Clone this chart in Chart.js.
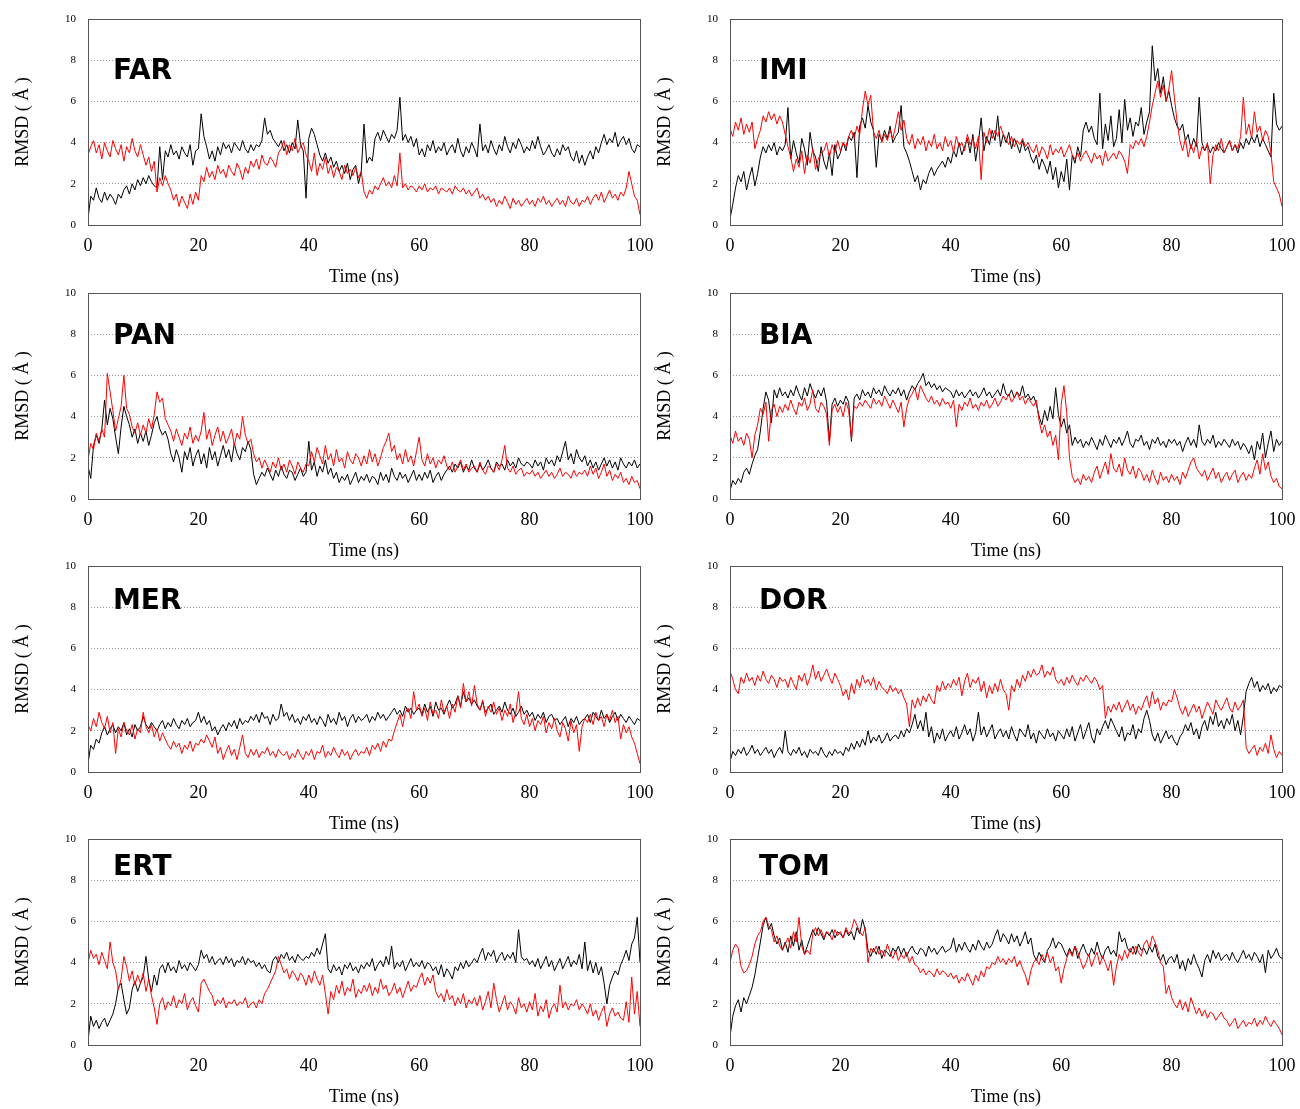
<!DOCTYPE html>
<html>
<head>
<meta charset="utf-8">
<script src="https://cdn.jsdelivr.net/npm/chart.js@4.4.1/dist/chart.umd.min.js"></script>
<style>
  body { margin: 0; background: #fff; }
  #page { position: relative; width: 1300px; height: 1109px; overflow: hidden; }
  canvas { position: absolute; }
</style>
</head>
<body>
<div id="page"></div>
<script>
// RMSD (Å) every 0.5 ns, 0..100 ns (one row = 10 ns)
const farBlack = [
  0.3,1.4,1.2,1.8,1.3,1.1,1.6,1.2,1.5,1.3,1.0,1.5,1.3,1.7,1.9,1.5,2.0,1.7,2.2,1.9,
  2.3,2.0,2.4,2.1,1.9,1.8,3.8,2.2,3.6,3.3,3.9,3.4,3.6,3.2,3.8,3.5,3.3,3.9,2.9,3.6,
  3.7,5.4,4.3,3.8,3.2,3.6,3.1,3.8,3.4,4.0,3.7,3.9,3.5,4.0,3.8,3.6,4.1,3.7,3.5,3.9,
  3.6,3.9,3.8,4.1,5.2,4.4,4.6,4.2,4.0,3.8,4.1,3.6,3.9,3.5,4.0,3.7,5.1,3.9,3.6,1.3,
  4.2,4.7,4.4,3.9,3.4,3.1,3.5,3.0,3.3,2.8,3.1,2.6,2.9,2.5,3.0,2.2,2.7,2.9,2.0,2.6,
  4.9,3.0,3.3,3.1,4.2,4.5,4.1,4.6,4.3,4.0,4.4,4.2,4.6,6.2,4.1,4.4,4.0,4.3,3.8,4.2,
  3.4,3.7,3.3,3.9,3.6,4.1,3.5,3.8,3.6,4.0,3.4,3.7,3.9,3.5,4.2,3.6,3.3,3.8,3.5,4.0,
  3.7,3.3,4.9,3.6,3.9,3.5,4.1,3.7,3.4,3.9,3.6,4.3,3.8,3.5,4.0,3.7,4.2,3.9,3.5,3.8,
  3.6,4.1,3.7,4.3,3.8,3.4,3.6,3.9,3.5,3.3,3.7,3.4,3.9,3.6,3.8,3.3,3.1,3.6,3.0,3.4,
  2.9,3.3,3.6,3.2,3.8,3.5,4.0,4.4,3.9,4.2,4.0,4.5,3.8,4.1,4.3,3.9,4.2,3.7,3.5,3.9,
  3.8
];
const farRed = [
  3.4,3.8,4.1,3.5,3.9,3.2,4.0,3.6,3.3,4.1,3.7,3.4,3.9,3.1,3.8,3.5,4.2,3.6,3.3,3.9,
  3.4,2.9,3.3,2.6,3.1,1.6,2.3,1.9,2.4,2.0,1.7,1.2,1.5,0.9,1.4,1.1,0.8,1.5,1.0,1.6,
  1.2,2.4,2.1,2.8,2.3,2.6,2.2,2.9,2.5,2.7,2.3,2.9,2.6,2.4,3.0,2.7,2.2,2.8,2.5,3.1,
  2.8,3.2,2.7,3.4,3.0,2.9,3.3,3.1,2.8,3.5,3.7,4.1,3.4,3.9,3.6,4.2,3.5,3.8,4.0,3.4,
  3.1,2.6,3.5,2.4,3.0,2.7,3.3,2.5,2.9,2.3,2.8,2.6,2.2,2.9,2.5,2.7,2.4,2.8,2.3,2.6,
  1.6,1.3,1.7,1.5,1.9,1.7,2.0,2.3,1.9,2.1,1.8,2.4,1.9,3.5,1.8,2.0,1.7,1.9,1.8,1.6,
  1.9,1.7,2.0,1.6,1.8,1.7,1.9,1.5,1.8,1.7,1.6,1.8,1.5,1.9,1.7,1.6,1.8,1.5,1.7,1.4,
  1.6,1.8,1.3,1.5,1.2,1.4,1.1,1.3,0.9,1.2,1.0,1.4,1.1,0.8,1.3,1.0,1.2,0.9,1.1,1.3,
  1.0,1.2,0.9,1.3,1.1,1.4,1.0,1.2,0.9,1.1,1.3,1.0,1.2,0.9,1.4,1.1,1.0,1.3,0.9,1.2,
  1.1,1.4,1.0,1.3,1.5,1.2,1.6,1.1,1.4,1.7,1.3,1.5,1.2,1.6,1.4,1.8,2.6,2.0,1.4,1.2,
  0.5
];
const imiBlack = [
  0.3,1.0,1.8,2.4,2.1,2.6,1.7,2.3,2.8,1.9,2.5,3.3,3.8,3.5,3.9,3.6,4.0,3.4,3.8,3.6,
  3.9,5.7,3.2,4.1,3.5,3.0,4.2,3.7,2.9,4.5,3.6,3.3,2.6,3.8,3.1,2.7,3.5,2.4,3.9,3.2,
  3.5,4.0,3.6,4.3,4.1,4.5,2.3,4.8,5.2,4.7,5.8,5.0,4.6,2.8,4.4,4.1,4.6,4.2,4.8,4.0,
  4.3,4.5,5.8,3.8,3.5,3.1,2.6,2.1,2.4,1.7,2.2,2.0,2.5,2.8,2.4,2.7,2.9,3.1,2.8,3.3,
  3.0,3.6,3.3,4.0,3.4,3.8,4.2,3.5,4.4,3.1,4.0,5.2,3.6,4.3,3.9,4.6,4.1,5.3,3.8,4.4,
  4.0,4.5,3.7,4.2,3.9,3.5,4.1,3.6,3.8,3.3,3.0,3.4,2.7,3.2,2.9,2.5,3.1,2.2,2.8,1.8,
  2.6,2.1,3.2,1.7,3.4,3.0,3.8,3.3,4.6,5.0,4.5,4.8,4.2,3.9,6.4,3.7,4.9,4.1,5.3,3.8,
  4.2,5.6,4.0,6.1,4.6,5.2,4.3,5.0,4.8,5.7,4.4,5.0,5.5,8.7,7.0,7.6,6.4,7.2,6.0,6.5,
  5.8,5.2,4.8,4.6,4.9,4.1,4.4,3.7,4.2,3.8,6.2,4.0,3.6,3.9,3.5,3.8,3.6,4.0,3.7,3.5,
  3.8,4.1,3.6,3.9,3.5,4.0,3.7,4.2,3.9,4.3,4.0,4.4,3.8,4.2,3.9,3.6,3.3,6.4,4.9,4.6,
  4.8
];
const imiRed = [
  4.7,4.3,5.0,4.6,5.2,4.4,4.9,4.5,5.0,3.7,4.2,4.6,5.3,5.0,5.5,5.1,5.4,4.9,5.3,5.0,
  4.4,3.8,3.3,2.6,3.2,2.8,3.6,2.5,3.4,3.0,3.7,2.7,3.2,3.5,3.6,4.0,3.3,3.9,3.5,4.1,
  3.6,4.0,3.8,4.3,4.6,4.2,4.8,4.4,5.6,6.5,5.8,6.3,4.5,4.2,4.6,4.0,4.4,4.1,4.6,4.2,
  4.8,5.5,4.6,5.1,4.2,3.9,4.4,3.7,4.2,3.9,4.3,3.6,4.1,3.8,4.4,3.7,4.0,3.6,4.3,3.8,
  4.1,3.5,4.3,3.8,4.0,3.6,4.4,3.9,4.2,3.7,4.3,2.2,4.5,4.0,4.7,4.2,4.6,4.3,4.8,4.4,
  4.2,3.9,4.3,3.8,4.1,3.9,4.2,3.8,4.0,3.7,3.5,3.9,3.3,3.8,3.6,3.2,3.9,3.4,3.7,3.5,
  3.8,3.3,3.6,3.9,3.4,3.2,3.5,3.1,3.4,3.6,3.3,3.0,3.5,3.2,3.4,2.9,3.6,3.1,3.3,3.5,
  3.2,3.6,3.4,3.1,2.5,3.9,3.7,4.1,3.9,4.2,3.8,4.3,5.0,5.8,6.4,7.0,6.2,6.8,6.0,6.6,
  7.5,6.2,5.0,4.1,3.6,4.2,3.3,3.9,3.5,4.1,3.2,3.8,3.6,4.0,2.0,3.4,3.9,3.6,4.2,3.5,
  3.8,4.1,3.6,3.9,3.7,4.3,6.2,4.4,4.9,4.2,5.5,4.5,4.8,4.1,4.6,4.3,3.5,2.1,1.8,1.5,
  0.9
];
const panBlack = [
  1.6,1.0,2.6,3.1,2.7,3.4,4.8,3.6,4.4,3.9,3.0,2.2,3.5,4.5,4.0,3.6,3.0,3.4,2.7,3.2,
  2.8,3.3,2.6,3.1,3.7,4.0,3.4,3.1,3.3,2.9,2.2,1.8,2.4,2.0,1.3,2.3,1.9,2.5,1.6,2.1,
  2.4,1.7,2.2,1.5,2.5,1.9,2.3,1.6,2.1,2.6,2.0,2.4,1.8,2.7,2.2,1.9,2.5,2.3,2.8,2.4,
  1.2,0.7,1.0,1.3,1.1,1.5,1.2,0.9,1.4,1.1,1.6,1.2,1.0,1.4,1.3,0.9,1.2,1.5,1.1,1.3,
  2.8,1.4,1.8,1.1,1.6,1.3,1.9,1.2,1.5,1.0,1.3,0.8,1.1,0.9,1.2,0.7,1.0,1.3,0.8,1.1,
  0.9,1.2,0.8,1.1,1.0,0.7,1.3,0.9,1.2,0.8,1.5,1.1,0.9,1.3,1.0,1.2,0.8,1.1,1.4,0.9,
  1.2,0.9,1.3,1.0,1.4,0.8,1.1,1.3,0.9,1.2,1.4,1.6,1.3,1.7,1.5,1.8,1.3,1.6,1.4,1.9,
  1.5,1.3,1.7,1.4,1.6,1.9,1.5,1.3,1.8,1.6,1.7,1.4,1.9,1.6,1.8,1.5,2.0,1.7,1.6,1.8,
  1.7,1.5,1.9,1.6,1.8,1.4,2.0,1.7,1.9,1.6,2.1,1.8,2.3,2.8,1.9,2.2,1.7,2.4,2.0,1.8,
  2.1,1.6,1.9,1.5,1.8,1.4,1.7,2.0,1.6,1.9,1.5,1.8,1.4,2.0,1.7,1.5,1.8,1.6,1.9,1.5,
  1.7
];
const panRed = [
  1.9,2.7,2.4,3.2,2.8,3.4,3.0,6.1,5.2,4.3,3.3,3.9,4.5,6.0,4.4,4.1,3.5,3.2,3.7,3.1,
  3.6,3.2,3.9,3.4,4.1,5.2,4.7,4.9,3.9,3.6,3.3,2.8,3.4,3.0,2.6,3.2,2.9,3.5,2.7,3.1,
  2.8,3.3,4.2,2.9,3.4,2.6,3.1,3.5,2.8,3.3,2.7,3.0,3.4,2.6,3.2,2.9,4.0,3.1,2.7,2.9,
  2.2,1.8,2.0,1.5,1.9,1.6,1.3,1.8,1.5,2.0,1.4,1.7,1.3,1.9,1.6,1.2,1.8,1.5,1.3,1.7,
  1.6,2.3,1.8,2.5,2.1,1.7,2.6,1.9,2.2,1.6,2.4,1.8,2.0,1.5,2.3,1.9,1.7,2.2,2.0,1.6,
  2.1,1.7,2.4,1.8,2.2,1.6,2.0,2.5,2.8,3.2,2.3,2.6,1.9,2.2,1.7,2.4,1.8,2.1,1.6,2.3,
  3.0,1.9,1.6,2.2,1.7,2.0,1.5,1.9,1.7,2.1,1.6,1.4,1.8,1.3,1.6,1.9,1.4,1.7,1.3,1.5,
  1.6,1.3,1.8,1.4,1.2,1.6,1.5,1.3,1.7,1.4,1.9,2.6,1.5,1.3,1.6,1.2,1.4,1.5,1.1,1.3,
  1.2,1.4,1.1,1.3,1.0,1.2,1.4,1.1,1.3,1.0,1.2,1.5,1.1,1.3,1.2,1.0,1.4,1.1,1.3,1.2,
  1.4,1.1,1.6,1.2,1.5,1.0,1.3,1.7,1.1,1.4,0.9,1.2,1.0,1.3,0.8,1.0,0.7,1.1,0.8,0.9,
  0.5
];
const biaBlack = [
  0.4,0.9,0.7,1.0,0.8,1.3,1.5,1.2,1.7,2.1,2.4,3.3,4.4,5.2,4.8,3.7,5.3,4.9,5.4,5.0,
  5.2,4.9,5.3,5.0,5.5,5.1,4.8,5.4,5.0,5.6,5.2,4.9,5.3,5.0,5.4,4.7,2.8,4.6,4.9,4.5,
  4.8,4.6,5.0,4.7,2.8,4.9,5.1,4.8,5.3,5.0,5.2,4.9,5.4,5.1,5.3,5.0,5.5,5.2,5.0,5.3,
  5.1,5.4,5.0,5.3,4.8,5.2,5.5,5.3,5.6,5.8,6.1,5.5,5.7,5.4,5.6,5.3,5.5,5.2,5.4,5.3,
  5.2,4.9,5.3,5.0,5.2,4.9,5.1,5.3,5.0,5.2,4.9,5.1,5.4,5.0,5.2,4.9,5.1,5.3,5.0,5.6,
  5.1,5.0,5.3,4.9,5.2,5.0,5.5,4.9,5.1,4.8,5.0,4.6,4.0,3.6,4.3,3.8,4.5,3.9,5.4,4.1,
  3.5,3.9,3.2,3.6,2.6,3.0,2.7,2.9,2.5,2.8,2.6,3.0,2.7,2.4,2.9,2.6,3.1,2.8,2.5,2.9,
  2.7,3.0,2.6,2.9,3.3,2.7,2.5,2.9,2.8,3.1,2.6,2.8,2.4,2.9,2.7,3.0,2.6,2.8,2.5,2.9,
  2.7,2.9,2.6,2.8,2.3,2.7,3.0,2.6,2.9,2.5,3.6,2.8,2.6,2.9,2.7,3.1,2.5,2.8,2.6,2.9,
  2.7,2.5,2.9,2.6,2.8,2.4,2.7,2.5,2.2,2.6,1.9,2.8,2.4,3.2,2.0,2.7,3.3,2.3,2.9,2.6,
  2.8
];
const biaRed = [
  3.1,2.7,3.3,2.8,3.0,2.6,3.2,2.9,2.0,3.1,3.6,4.4,4.1,4.7,2.8,4.3,4.6,4.0,4.5,4.2,
  4.6,4.3,4.8,4.4,4.1,4.7,4.5,4.9,4.3,4.6,5.3,4.4,4.2,4.7,4.5,4.1,2.6,4.3,4.6,4.2,
  4.5,4.0,4.7,4.3,2.9,4.5,4.4,4.7,4.5,4.8,4.6,4.4,4.9,4.6,4.8,4.5,5.0,4.7,4.4,4.8,
  4.5,4.2,4.7,3.5,4.4,4.9,5.1,5.4,4.8,5.5,5.2,4.9,4.7,5.0,4.6,4.8,4.5,4.9,4.6,4.7,
  4.4,4.8,3.5,4.6,4.3,4.7,4.5,4.9,4.4,4.6,4.3,4.7,4.5,4.8,4.4,4.6,4.9,4.5,4.7,5.0,
  4.8,5.1,4.7,4.9,5.2,4.8,5.0,4.6,4.9,4.7,4.5,4.8,3.8,3.2,3.6,3.0,3.3,2.6,3.1,1.9,
  4.6,5.5,4.2,2.0,1.1,0.8,1.0,0.7,1.2,0.9,1.1,0.8,1.3,1.6,1.0,1.4,1.8,1.2,2.2,1.5,
  1.3,1.7,1.1,2.0,1.4,1.2,1.6,1.0,1.5,1.3,0.9,1.2,0.8,1.4,1.0,0.7,1.3,0.9,1.1,0.8,
  1.2,0.9,1.1,0.7,1.3,1.0,1.4,1.8,2.0,1.5,1.3,1.1,1.4,0.9,1.2,1.5,1.0,1.3,0.8,1.1,
  1.3,0.9,1.2,1.4,0.8,1.1,1.3,0.9,1.2,1.0,1.5,1.9,1.2,2.2,1.4,1.8,1.1,0.8,1.0,0.6,
  0.5
];
const merBlack = [
  0.4,1.3,1.1,1.6,1.4,1.9,2.2,1.8,2.1,2.3,1.9,2.2,2.0,2.4,1.8,2.1,1.7,2.3,2.0,2.2,
  2.7,2.3,2.1,2.4,2.2,2.0,2.3,2.5,2.1,2.4,2.2,2.6,2.3,2.1,2.5,2.3,2.6,2.2,2.4,2.5,
  2.9,2.4,2.7,2.3,2.5,2.0,2.2,1.8,2.1,2.3,2.0,2.4,2.2,2.5,2.1,2.6,2.3,2.5,2.4,2.7,
  2.5,2.8,2.4,2.9,2.6,2.7,2.3,2.8,2.5,2.6,3.3,2.7,2.9,2.5,2.8,2.4,2.6,2.3,2.7,2.5,
  2.8,2.4,2.6,2.3,2.7,2.5,2.2,2.8,2.4,2.6,2.3,2.9,2.5,2.7,2.2,2.6,2.8,2.4,2.7,2.5,
  2.6,2.8,2.4,2.7,2.5,2.9,2.6,2.8,2.5,2.7,2.9,3.1,2.8,3.0,2.7,3.2,2.9,3.1,2.8,3.0,
  3.1,2.8,3.3,2.9,3.2,2.7,3.4,3.0,3.1,2.8,3.2,3.5,3.1,3.3,3.7,3.2,3.9,3.4,3.6,3.3,
  3.5,3.2,3.0,3.4,2.9,3.1,3.3,2.8,3.0,3.2,2.9,3.4,3.0,2.8,3.1,2.7,2.9,3.2,2.8,3.0,
  2.7,2.9,2.5,2.8,2.6,2.9,2.4,2.7,2.8,2.5,2.6,2.3,2.5,2.7,2.2,2.6,2.4,2.7,2.3,2.5,
  2.6,2.8,2.4,2.9,2.7,2.5,3.0,2.6,2.8,2.4,2.7,2.9,2.5,2.8,2.6,2.4,2.7,2.5,2.3,2.6,
  2.5
];
const merRed = [
  2.3,2.0,2.6,2.2,2.9,2.4,2.1,2.7,1.9,2.4,0.9,2.1,1.7,2.4,2.0,1.8,2.3,1.6,2.1,1.9,
  2.9,2.2,1.9,2.3,1.7,2.1,1.5,1.9,1.6,1.3,1.1,1.5,1.2,1.4,0.9,1.3,1.1,1.5,1.0,1.4,
  1.3,1.6,1.4,1.8,1.5,1.2,1.7,0.9,1.2,0.6,1.0,1.3,0.8,1.1,0.6,1.2,1.8,0.9,0.7,1.1,
  0.8,1.1,0.7,1.0,0.9,1.2,0.8,1.0,0.7,1.1,0.9,0.8,1.0,0.6,0.9,0.7,1.1,0.8,0.6,1.0,
  0.8,1.1,0.6,1.0,0.9,1.3,0.7,1.0,0.8,1.2,0.9,0.7,1.1,0.8,1.0,0.6,0.9,1.1,0.8,1.0,
  0.9,1.2,0.8,1.3,1.1,1.4,1.0,1.5,1.2,1.6,1.5,2.0,2.4,2.8,2.2,2.9,3.1,2.6,3.9,3.0,
  3.3,2.7,3.1,2.5,3.4,2.8,3.0,2.6,3.5,2.9,3.2,2.6,3.3,2.9,3.7,3.1,4.3,3.4,3.9,3.2,
  4.2,3.3,3.0,3.5,2.7,3.2,2.9,3.4,2.8,3.1,2.5,3.0,2.7,3.3,2.4,2.9,3.9,2.6,2.3,2.8,
  2.2,2.6,2.0,2.5,2.3,2.7,1.9,2.4,2.1,2.6,2.0,1.7,2.4,2.1,1.5,2.5,1.9,2.3,1.0,2.2,
  2.6,2.4,2.8,2.3,2.9,2.5,2.7,2.2,2.8,2.5,3.0,2.4,2.7,1.6,2.3,1.9,2.2,1.7,1.4,0.9,
  0.4
];
const dorBlack = [
  0.5,1.0,0.8,1.1,0.9,1.2,0.8,1.0,1.3,0.9,1.1,0.8,1.0,1.2,0.9,1.1,0.7,1.0,1.2,0.9,
  2.0,1.0,0.8,1.1,0.9,1.2,0.8,1.0,0.7,1.1,0.9,1.0,0.8,1.2,0.9,0.7,1.0,0.8,1.1,0.9,
  1.0,0.8,1.2,1.0,1.4,1.1,1.5,1.2,1.6,1.3,2.0,1.4,1.7,1.5,1.8,1.4,1.6,1.9,1.5,1.7,
  1.8,1.6,2.0,1.7,2.1,1.9,2.3,2.8,2.1,2.5,2.0,2.9,1.7,2.2,1.4,1.9,1.6,2.1,1.5,1.8,
  2.0,1.7,2.2,1.6,1.9,2.3,1.8,2.1,1.5,1.9,2.9,1.8,2.2,1.7,2.0,2.3,1.6,1.9,2.1,1.7,
  2.0,1.6,2.2,1.8,1.5,2.1,1.9,1.7,2.3,1.6,1.9,1.4,2.0,1.8,1.6,2.1,1.7,1.9,1.5,2.0,
  1.8,1.6,2.1,1.7,2.2,1.5,1.9,2.3,1.6,2.0,2.4,1.7,1.4,2.1,1.8,2.2,2.5,2.1,2.6,2.3,
  2.0,1.7,2.2,1.5,1.9,1.8,2.3,1.6,2.1,1.9,2.6,3.0,2.5,1.8,1.5,1.9,1.4,1.7,2.0,1.6,
  1.8,1.5,1.3,1.7,1.9,2.3,2.0,2.4,1.8,2.1,1.6,2.2,2.5,2.0,2.7,2.3,2.9,2.2,2.5,2.1,
  2.6,2.3,2.8,2.0,2.5,1.8,2.7,3.9,4.3,4.6,4.1,4.4,3.9,4.2,4.0,4.3,3.8,4.1,3.9,4.2,
  4.1
];
const dorRed = [
  4.9,4.5,4.0,3.8,4.6,4.3,4.8,4.4,4.6,4.2,4.7,4.4,4.9,4.5,4.3,4.7,4.5,4.1,4.6,4.4,
  4.5,4.1,4.6,4.3,4.0,4.7,4.4,4.8,4.2,4.6,5.2,4.5,4.9,4.4,4.7,5.0,4.6,4.3,4.8,4.5,
  4.2,3.7,4.0,3.5,4.3,3.8,4.5,4.1,4.7,4.3,4.5,4.2,4.6,4.0,4.4,4.1,4.0,3.8,4.2,3.9,
  4.1,3.8,4.0,3.6,3.3,2.2,3.5,3.1,3.6,3.2,3.7,3.4,3.8,3.5,3.3,4.2,3.9,4.4,4.0,4.3,
  4.1,4.5,4.2,4.6,3.7,4.4,4.8,4.1,4.5,4.3,4.6,3.9,4.4,3.6,4.2,3.8,4.3,3.9,4.5,4.0,
  3.8,3.0,4.2,3.9,4.5,4.1,4.7,4.4,4.9,4.6,5.0,4.7,4.8,5.2,4.6,4.9,4.7,5.1,4.5,4.3,
  4.5,4.2,4.6,4.3,4.7,4.4,4.2,4.6,4.4,4.7,4.5,4.3,4.6,4.4,4.0,4.2,2.6,3.2,2.9,3.3,
  3.0,3.4,2.9,3.2,3.5,3.0,3.3,2.8,3.2,3.0,3.4,3.7,3.1,3.9,3.3,3.6,3.0,3.4,3.2,3.5,
  3.4,4.0,3.6,3.1,2.8,3.2,2.7,3.0,3.3,2.9,3.2,2.6,3.0,3.4,3.1,2.8,3.5,3.2,3.0,3.3,
  3.6,3.1,2.9,3.4,3.0,3.2,3.5,1.2,0.9,1.1,1.3,0.8,1.2,1.0,1.4,0.9,1.8,1.1,0.7,1.0,
  0.8
];
const ertBlack = [
  0.2,1.4,0.9,1.2,0.8,1.1,1.3,0.9,1.2,1.5,2.0,2.8,3.0,2.2,1.5,1.8,2.7,3.1,2.6,3.0,
  3.3,4.3,3.2,2.6,3.4,2.9,3.7,3.9,3.5,4.0,3.6,3.8,3.5,4.1,3.7,3.9,3.6,4.0,3.8,3.6,
  3.9,4.6,4.2,4.4,4.0,4.3,3.9,4.1,4.2,3.9,4.3,4.0,4.2,3.8,4.1,4.0,4.3,3.9,4.2,4.0,
  4.1,3.8,4.0,3.7,3.9,3.6,3.5,4.1,4.3,4.0,4.4,4.2,4.5,4.1,4.3,4.0,4.4,4.2,4.1,4.3,
  4.2,4.5,4.3,4.7,4.4,4.9,5.4,3.7,3.5,3.9,3.6,3.8,3.4,3.9,3.7,4.0,3.6,3.8,3.5,3.9,
  3.7,4.0,3.8,4.2,3.6,3.9,4.1,3.8,4.3,3.9,4.8,3.7,4.0,3.8,4.1,3.6,3.9,4.2,3.8,4.0,
  3.8,4.1,3.7,4.0,3.9,3.6,3.8,3.4,3.9,3.3,3.7,3.5,3.2,3.8,3.6,4.0,3.7,4.1,3.8,4.0,
  4.2,4.0,4.4,4.7,4.1,4.5,4.3,4.6,4.0,4.3,4.5,4.1,4.4,4.2,4.5,4.0,5.6,4.3,4.1,4.2,
  3.9,4.1,3.8,4.2,3.7,4.0,4.3,3.8,4.1,3.6,3.9,4.2,3.7,4.0,4.3,3.8,4.1,3.9,4.4,3.7,
  5.0,3.6,4.1,3.5,4.0,3.4,3.8,3.0,2.0,2.9,3.3,3.6,3.4,3.9,4.2,4.6,4.1,4.9,5.2,6.2,
  4.0
];
const ertRed = [
  4.0,4.6,4.2,4.4,3.9,4.5,4.1,3.7,5.0,4.0,3.6,2.7,3.2,4.3,3.8,3.1,3.6,2.9,3.4,3.0,
  3.5,2.6,3.2,2.4,1.8,1.0,2.0,2.3,1.7,2.1,1.9,2.4,1.8,2.2,2.0,2.5,1.7,2.1,2.3,1.9,
  1.6,3.0,3.2,2.9,2.6,2.4,1.9,2.2,2.0,2.3,1.8,2.1,2.0,2.2,1.9,2.1,2.0,2.3,1.8,2.0,
  2.1,1.8,2.2,2.0,2.5,2.7,3.0,3.3,3.6,4.3,3.9,3.5,3.7,3.2,3.6,3.4,3.1,3.5,3.3,2.9,
  3.4,3.0,3.6,3.2,2.9,3.4,2.5,1.5,2.6,2.2,2.9,2.5,3.1,2.4,2.8,2.6,3.2,2.3,2.7,2.5,
  2.9,2.6,3.0,2.4,2.8,2.5,3.2,2.7,2.9,2.4,2.6,3.0,2.5,2.8,2.3,2.7,3.1,2.6,2.9,2.8,
  3.2,3.5,2.9,3.3,3.0,3.4,2.6,2.3,2.5,2.1,2.7,2.2,2.4,1.9,2.3,2.0,2.5,1.8,2.2,2.0,
  2.3,1.9,2.4,1.7,2.1,2.6,1.8,3.0,2.2,1.6,2.0,2.4,1.7,2.1,1.9,1.5,2.3,1.8,2.0,1.6,
  2.1,1.7,2.5,1.4,1.9,1.6,2.2,1.3,1.8,2.0,1.6,2.9,1.8,2.1,1.7,2.0,1.9,2.2,1.7,2.0,
  1.8,1.5,2.0,1.4,1.7,1.2,1.6,1.9,0.9,1.5,1.8,1.4,1.6,1.3,1.2,2.1,1.1,3.3,1.5,2.6,
  0.9
];
const tomBlack = [
  0.4,1.4,1.9,2.2,1.6,2.3,2.0,2.4,2.8,3.4,4.2,5.0,5.8,6.2,5.6,5.9,5.3,4.9,5.2,4.6,
  5.0,4.5,5.3,4.8,5.5,4.6,5.1,4.4,4.8,5.2,5.6,5.3,5.7,5.4,5.1,5.5,5.3,5.6,5.2,5.5,
  5.4,5.2,5.6,5.3,5.5,5.1,5.7,5.4,6.1,5.6,4.6,4.3,4.7,4.4,4.8,4.2,4.6,4.5,4.3,4.7,
  4.5,4.8,4.4,4.7,4.3,4.6,4.8,4.5,4.4,4.7,4.6,4.3,4.8,4.5,4.7,4.4,4.6,4.8,4.5,4.6,
  4.7,5.2,4.5,4.9,4.6,5.0,4.7,4.5,4.9,4.6,5.1,4.8,4.6,5.0,4.7,4.9,5.3,5.6,5.0,5.4,
  5.2,4.9,5.4,5.0,5.3,4.8,5.1,5.5,4.9,5.2,4.4,4.1,4.5,4.2,4.0,4.6,4.8,5.2,4.7,5.0,
  4.9,4.6,4.3,4.7,4.4,4.8,4.2,4.6,4.9,4.5,4.3,4.7,4.4,5.0,4.5,4.2,4.6,4.8,4.4,4.6,
  4.3,5.5,5.0,5.2,4.7,4.5,4.8,4.4,4.9,4.6,4.7,4.4,4.8,4.5,4.9,4.3,4.1,4.4,3.9,4.2,
  4.3,4.0,4.4,3.7,4.1,3.6,4.2,3.9,4.4,4.0,3.7,3.3,4.1,4.4,4.0,4.6,4.2,4.5,4.1,4.3,
  4.4,4.1,4.5,4.2,4.0,4.3,4.6,4.2,4.4,4.1,4.5,4.3,4.0,4.4,3.5,4.6,4.2,4.4,4.7,4.3,
  4.2
];
const tomRed = [
  4.0,4.6,4.9,4.7,3.8,3.5,3.6,3.9,4.3,4.9,5.3,5.5,6.0,6.2,5.8,5.6,5.0,5.3,4.8,4.6,
  4.9,5.2,4.7,5.5,5.0,6.2,4.8,4.4,4.6,4.4,5.4,5.7,5.3,5.6,5.2,5.5,5.4,5.1,5.6,5.3,
  5.5,5.2,5.7,5.4,5.6,6.1,5.8,5.5,5.3,5.7,4.0,4.7,4.5,4.8,4.4,4.6,4.3,4.9,4.5,4.2,
  4.6,4.1,4.4,4.2,4.5,4.0,4.3,3.9,3.8,3.5,3.7,3.4,3.6,3.5,3.3,3.7,3.4,3.6,3.5,3.3,
  3.5,3.2,3.4,3.0,3.3,3.1,3.5,3.2,2.9,3.4,3.1,3.6,3.3,3.8,3.7,4.0,3.9,4.3,4.0,4.2,
  3.9,4.2,4.0,4.3,3.8,4.1,3.7,3.4,2.9,3.6,4.0,4.2,3.9,4.4,4.1,4.5,4.0,4.3,3.6,3.8,
  3.0,3.7,4.2,4.6,4.3,4.8,4.5,4.1,3.7,4.0,4.4,3.8,4.2,4.5,3.9,4.3,4.0,3.6,4.1,2.9,
  3.8,4.4,4.1,4.6,4.2,4.7,4.4,4.8,4.5,4.3,4.9,5.1,4.7,5.3,5.0,4.6,4.0,3.8,2.5,2.9,
  2.3,2.0,1.8,2.2,1.7,2.1,1.6,2.3,1.9,1.5,1.8,1.4,1.7,1.3,1.6,1.5,1.2,1.4,1.6,1.3,
  1.2,0.9,1.1,1.3,0.8,1.0,1.2,0.9,1.1,1.0,1.3,0.9,1.2,1.0,1.4,1.1,0.9,1.2,1.0,0.8,
  0.5
];

const panelNames = ['FAR', 'IMI', 'PAN', 'BIA', 'MER', 'DOR', 'ERT', 'TOM'];
const blackSeries = [farBlack, imiBlack, panBlack, biaBlack, merBlack, dorBlack, ertBlack, tomBlack];
const redSeries = [farRed, imiRed, panRed, biaRed, merRed, dorRed, ertRed, tomRed];
const xTicks = [0, 20, 40, 60, 80, 100];
const yTicks = [0, 2, 4, 6, 8, 10];

// page layout (px)
const plotTops = [19, 293, 566, 839];
const nameBaselines = [79, 344, 609, 875];
const columns = [
  { left: 0, width: 665, axisW: 88, padRight: 25, titlePad: 12, nameDx: 25 },
  { left: 650, width: 660, axisW: 80, padRight: 28, titlePad: 4, nameDx: 29 }
];
const PAD_TOP = 20, PLOT_H = 206, XAXIS_H = 63;

Chart.defaults.font.family = '"Liberation Serif", "Times New Roman", serif';
Chart.defaults.color = '#000';

const frameAndName = {
  id: 'frameAndName',
  afterDatasetsDraw(chart, args, opts) {
    const { ctx, chartArea: a } = chart;
    ctx.save();
    ctx.strokeStyle = '#555';
    ctx.lineWidth = 1;
    ctx.strokeRect(Math.round(a.left) + 0.5, Math.round(a.top) + 0.5,
      Math.round(a.right - a.left), Math.round(a.bottom - a.top));
    ctx.fillStyle = '#000';
    ctx.font = 'bold 28px "DejaVu Sans", "Noto Sans", sans-serif';
    ctx.textBaseline = 'alphabetic';
    ctx.fillText(opts.name, a.left + opts.dx, opts.baseline);
    ctx.restore();
  }
};

function toPoints(values) {
  const step = 100 / (values.length - 1);
  return values.map((v, i) => ({ x: i * step, y: v }));
}

const page = document.getElementById('page');
panelNames.forEach((name, k) => {
  const col = columns[k % 2];
  const row = Math.floor(k / 2);
  const top = plotTops[row] - PAD_TOP;
  const canvas = document.createElement('canvas');
  canvas.width = col.width;
  canvas.height = PAD_TOP + PLOT_H + XAXIS_H;
  canvas.style.left = col.left + 'px';
  canvas.style.top = top + 'px';
  page.appendChild(canvas);

  new Chart(canvas.getContext('2d'), {
    type: 'line',
    data: {
      datasets: [
        { data: toPoints(redSeries[k]), borderColor: '#ff0000', borderWidth: 1, order: 0 },
        { data: toPoints(blackSeries[k]), borderColor: '#000000', borderWidth: 1, order: 1 }
      ]
    },
    options: {
      responsive: false,
      animation: false,
      events: [],
      layout: { padding: { top: PAD_TOP, right: col.padRight, bottom: 0, left: 0 } },
      elements: { point: { radius: 0 }, line: { tension: 0 } },
      plugins: {
        legend: { display: false },
        tooltip: { enabled: false },
        frameAndName: { name: name, dx: col.nameDx, baseline: nameBaselines[row] - top }
      },
      scales: {
        x: {
          type: 'linear', min: 0, max: 100,
          afterBuildTicks: (s) => { s.ticks = xTicks.map(v => ({ value: v })); },
          afterFit: (s) => { s.height = XAXIS_H; },
          grid: { display: false, drawTicks: false },
          border: { display: false },
          ticks: { font: { size: 18 }, padding: 10, maxRotation: 0 },
          title: { display: true, text: 'Time (ns)', font: { size: 18 }, padding: { top: 0, bottom: 0 } }
        },
        y: {
          min: 0, max: 10,
          afterBuildTicks: (s) => { s.ticks = yTicks.map(v => ({ value: v })); },
          afterFit: (s) => { s.width = col.axisW; },
          grid: { color: '#9a9a9a', lineWidth: 1, drawTicks: false },
          border: { display: false, dash: [1, 2] },
          ticks: { font: { size: 11 }, padding: 12 },
          title: { display: true, text: 'RMSD ( Å )', font: { size: 18 }, padding: { top: col.titlePad, bottom: 0 } }
        }
      }
    },
    plugins: [frameAndName]
  });
});
</script>
</body>
</html>
